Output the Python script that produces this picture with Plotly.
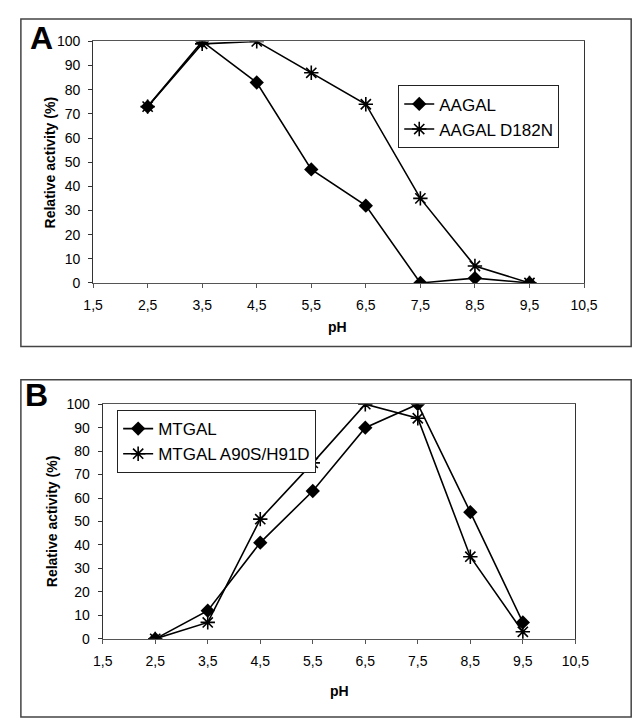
import plotly.graph_objects as go

W, H = 642, 720

ph = [2.5, 3.5, 4.5, 5.5, 6.5, 7.5, 8.5, 9.5]
aagal = [73, 100, 83, 47, 32, 0, 2, 0]
aagal_d182n = [73, 99, 100, 87, 74, 35, 7, 0]
mtgal = [0, 12, 41, 63, 90, 100, 54, 7]
mtgal_mut = [0, 7, 51, 75, 100, 94, 35, 3]

x_tickvals = [1.5, 2.5, 3.5, 4.5, 5.5, 6.5, 7.5, 8.5, 9.5, 10.5]
x_ticktext = ["1,5", "2,5", "3,5", "4,5", "5,5", "6,5", "7,5", "8,5", "9,5", "10,5"]
y_tickvals = [0, 10, 20, 30, 40, 50, 60, 70, 80, 90, 100]

FONT = "Liberation Sans, Arial, sans-serif"

def px(v):
    return v / W

def py(v):
    return (H - v) / H

fig = go.Figure()

line = dict(color="black", width=1.6)
dia = dict(symbol="diamond", size=11, color="black")
star = dict(symbol="asterisk-open", size=12, color="black", line=dict(color="black", width=1.6))

fig.add_trace(go.Scatter(x=ph, y=aagal, name="AAGAL", mode="lines+markers",
                         line=line, marker=dia, xaxis="x", yaxis="y", legend="legend"))
fig.add_trace(go.Scatter(x=ph, y=aagal_d182n, name="AAGAL D182N", mode="lines+markers",
                         line=line, marker=star, xaxis="x", yaxis="y", legend="legend"))
fig.add_trace(go.Scatter(x=ph, y=mtgal, name="MTGAL", mode="lines+markers",
                         line=line, marker=dia, xaxis="x2", yaxis="y2", legend="legend2"))
fig.add_trace(go.Scatter(x=ph, y=mtgal_mut, name="MTGAL A90S/H91D", mode="lines+markers",
                         line=line, marker=star, xaxis="x2", yaxis="y2", legend="legend2"))

def xax(domain, anchor):
    return dict(domain=domain, anchor=anchor, range=[1.5, 10.5], tickvals=x_tickvals,
                ticktext=x_ticktext, showgrid=False, zeroline=False, showline=True,
                linecolor="#555", linewidth=1, mirror=True, ticks="outside", ticklen=4,
                tickcolor="#555", tickfont=dict(family=FONT, size=14, color="black"),
                ticklabelstandoff=5)

def yax(domain, anchor):
    return dict(domain=domain, anchor=anchor, range=[0, 100], tickvals=y_tickvals,
                showgrid=False, zeroline=False, showline=True, linecolor="#333",
                linewidth=1, mirror=True, ticks="outside", ticklen=4, tickcolor="#333",
                tickfont=dict(family=FONT, size=14, color="black"), ticklabelstandoff=5)

fig.update_layout(
    width=W, height=H, margin=dict(l=0, r=0, t=0, b=0),
    paper_bgcolor="white", plot_bgcolor="white",
    font=dict(family=FONT, color="black"),
    xaxis=xax([px(78), px(588)], "y"),
    yaxis=yax([py(273), py(26)], "x"),
    xaxis2=xax([px(88), px(579)], "y2"),
    yaxis2=yax([py(637), py(397)], "x2"),
    legend=dict(x=px(395), y=py(71), xanchor="left", yanchor="top",
                bordercolor="#222", borderwidth=1, bgcolor="white",
                font=dict(family=FONT, size=17, color="black"), tracegroupgap=0),
    legend2=dict(x=px(103), y=py(403), xanchor="left", yanchor="top",
                 bordercolor="#222", borderwidth=1, bgcolor="white",
                 font=dict(family=FONT, size=17, color="black"), tracegroupgap=0),
    showlegend=True,
)

shapes = [
    dict(type="rect", xref="paper", yref="paper", x0=px(3), x1=px(637), y0=py(338), y1=py(3),
         line=dict(color="#444", width=1.5)),
    dict(type="rect", xref="paper", yref="paper", x0=px(3), x1=px(637), y0=py(717), y1=py(372),
         line=dict(color="#444", width=1.5)),
]
fig.update_layout(shapes=shapes)

ann = [
    dict(text="<b>A</b>", x=px(10), y=py(2), xanchor="left", yanchor="top",
         font=dict(size=32, family=FONT)),
    dict(text="<b>B</b>", x=px(5), y=py(367), xanchor="left", yanchor="top",
         font=dict(size=32, family=FONT)),
    dict(text="<b>Relative activity (%)</b>", x=px(33), y=py(150), textangle=-90,
         xanchor="center", yanchor="middle", font=dict(size=14, family=FONT)),
    dict(text="<b>Relative activity (%)</b>", x=px(35), y=py(517), textangle=-90,
         xanchor="center", yanchor="middle", font=dict(size=14, family=FONT)),
    dict(text="<b>pH</b>", x=px(332), y=py(318), xanchor="center", yanchor="middle",
         font=dict(size=14, family=FONT)),
    dict(text="<b>pH</b>", x=px(334), y=py(690), xanchor="center", yanchor="middle",
         font=dict(size=14, family=FONT)),
]
for a in ann:
    a.update(xref="paper", yref="paper", showarrow=False)
fig.update_layout(annotations=ann)

fig.write_html("out.html")
